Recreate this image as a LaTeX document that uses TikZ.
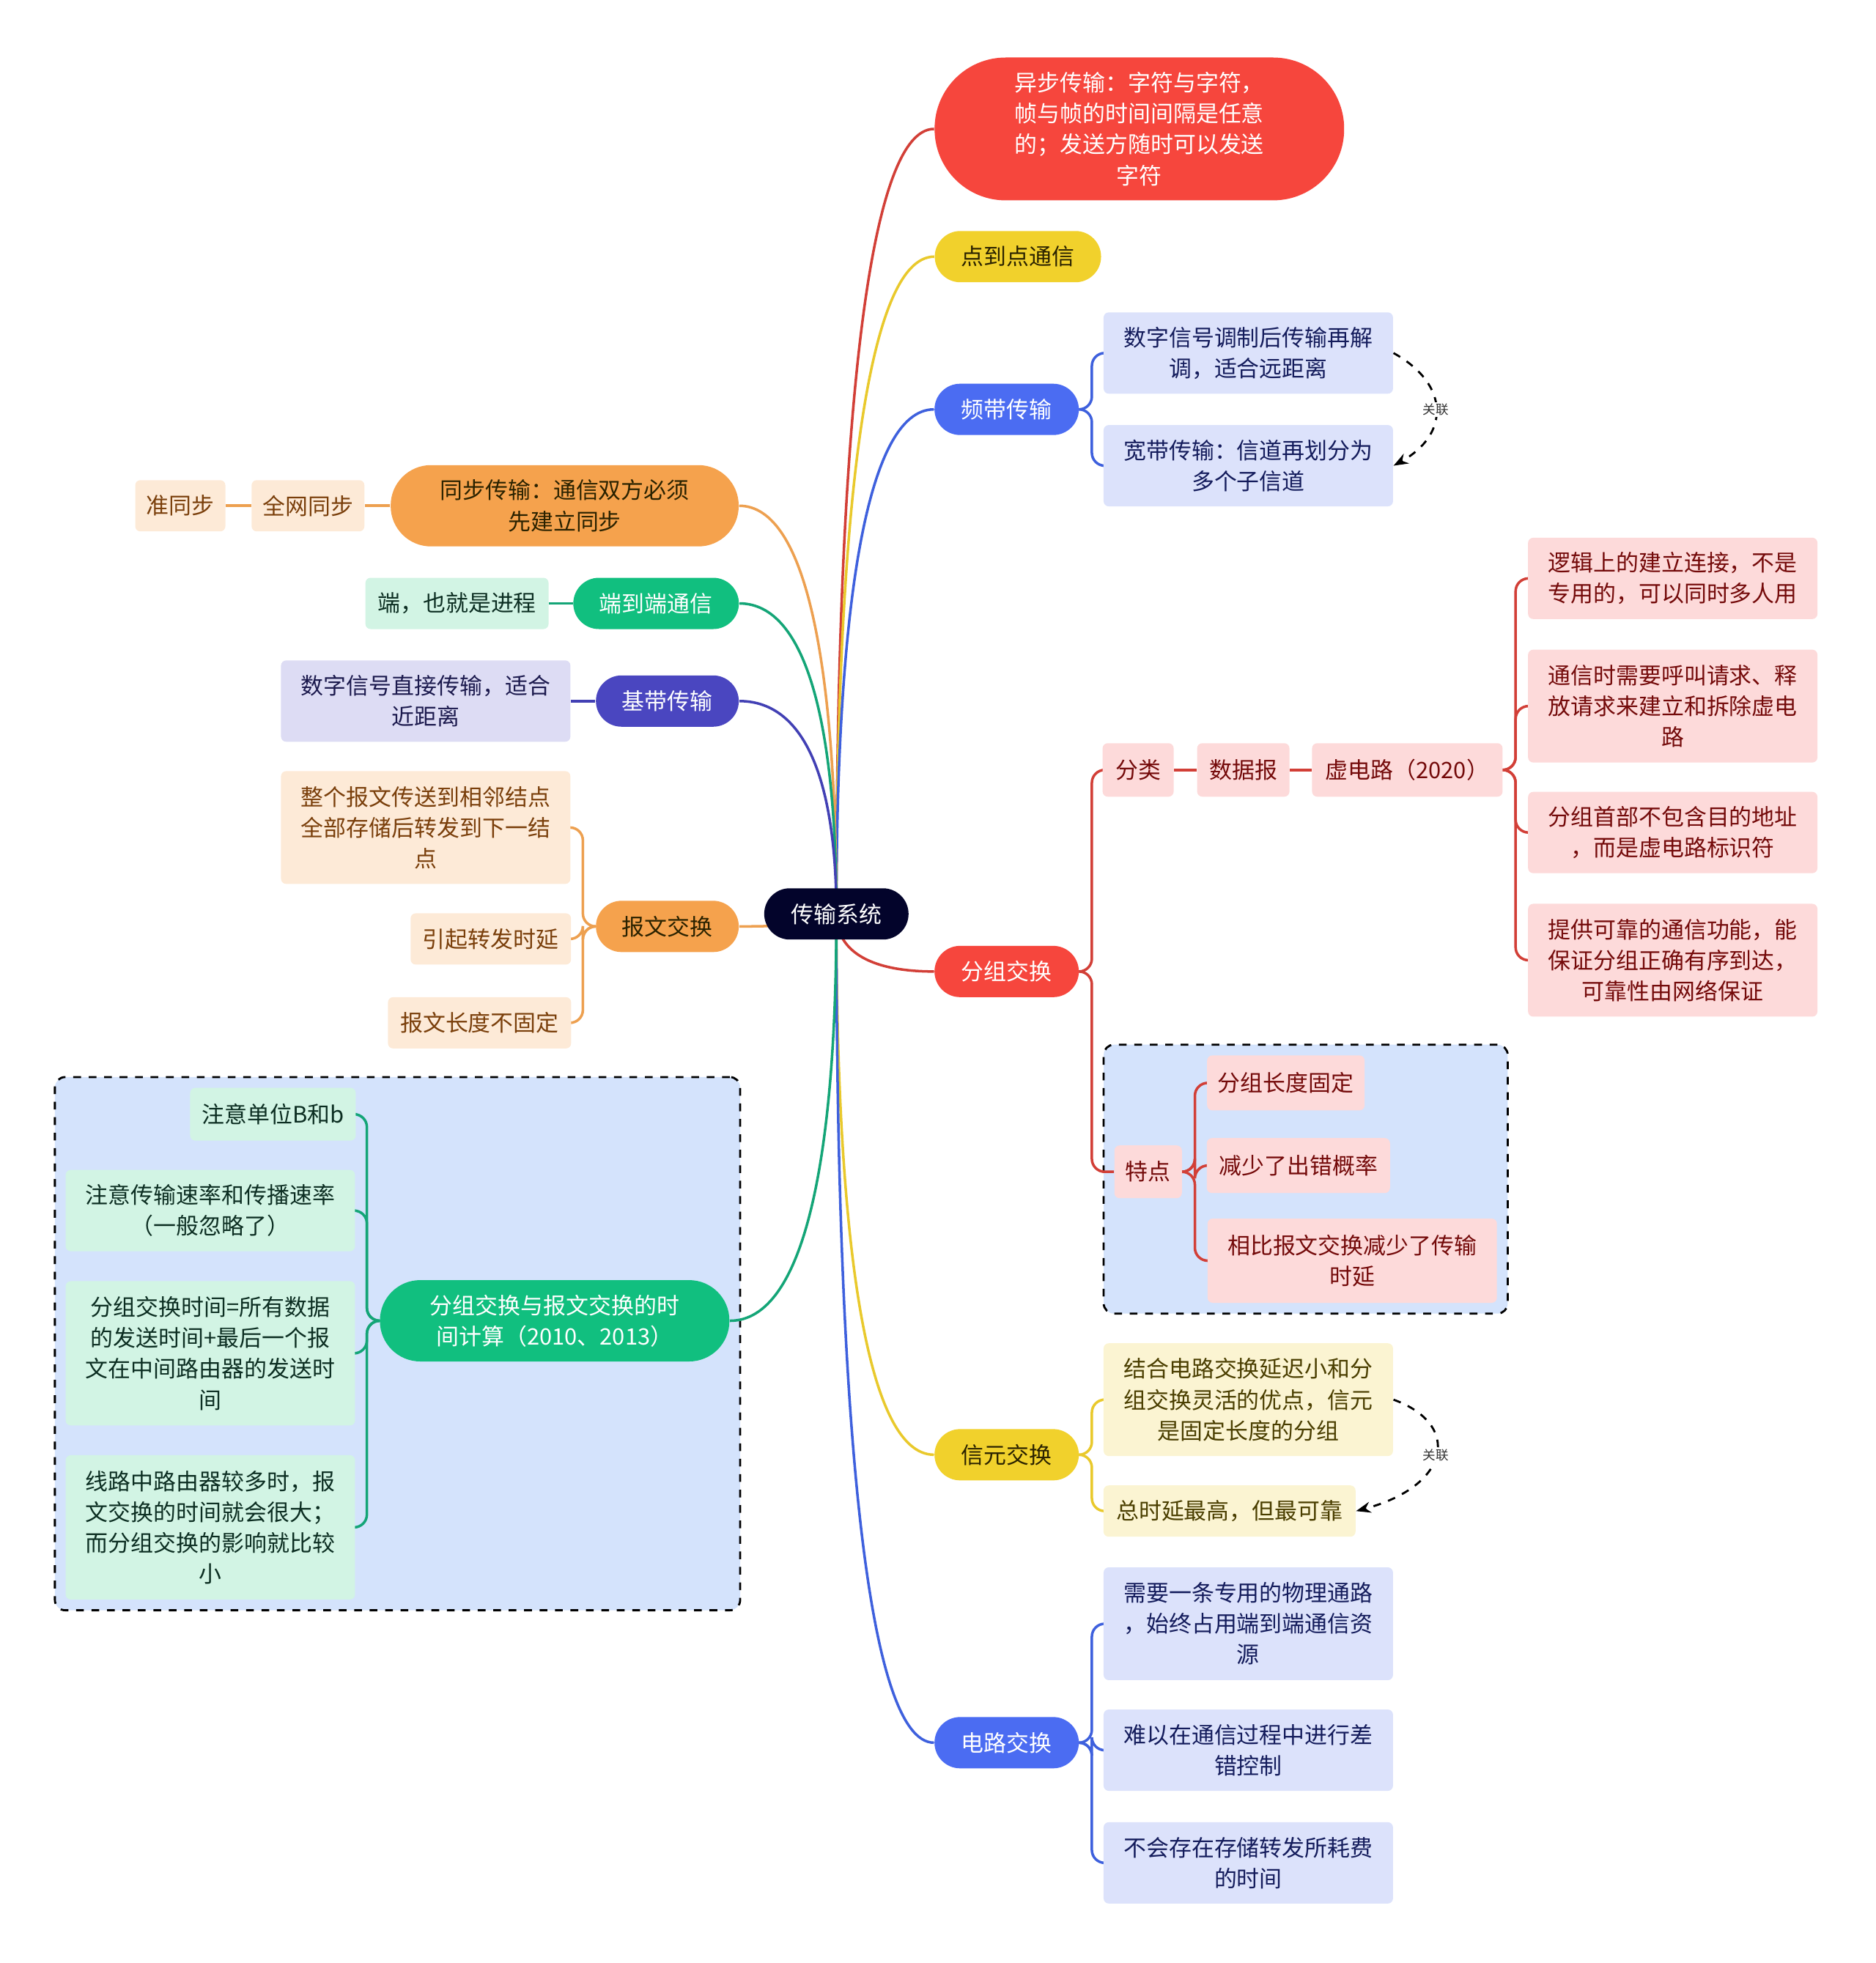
\documentclass[tikz,border=0pt]{standalone}
\usepackage{fontspec}
\setmainfont{Noto Sans CJK SC}
\usetikzlibrary{arrows.meta,fit,backgrounds,calc}
\pgfdeclarelayer{back}
\pgfdeclarelayer{lines}
\pgfsetlayers{back,lines,main}

\definecolor{cRoot}{HTML}{03042B}
\definecolor{cRed}{HTML}{F6463D}
\definecolor{cYellow}{HTML}{F1D12C}
\definecolor{cBlue}{HTML}{4B6CF2}
\definecolor{cIndigo}{HTML}{4A46C0}
\definecolor{cGreen}{HTML}{11BF7F}
\definecolor{cOrange}{HTML}{F5A24D}
\definecolor{lBlue}{HTML}{DCE2FB}
\definecolor{lPink}{HTML}{FDDADA}
\definecolor{lYellow}{HTML}{FBF4D2}
\definecolor{lOrange}{HTML}{FDEAD7}
\definecolor{lGreen}{HTML}{D2F4E4}
\definecolor{lViolet}{HTML}{DDDCF4}
\definecolor{zoneBlue}{HTML}{D4E3FC}
\definecolor{tBlue}{HTML}{141C5C}
\definecolor{tRed}{HTML}{740A0A}
\definecolor{tYellow}{HTML}{4A3E00}
\definecolor{tOrange}{HTML}{7A3F0B}
\definecolor{tGreen}{HTML}{0C2E22}
\definecolor{tViolet}{HTML}{1C1A4E}
\definecolor{tDark}{HTML}{2A2200}
\definecolor{kRed}{HTML}{D23F37}
\definecolor{kYellow}{HTML}{E9C92C}
\definecolor{kBlue}{HTML}{3E60DD}
\definecolor{kIndigo}{HTML}{4240B4}
\definecolor{kGreen}{HTML}{14A577}
\definecolor{kOrange}{HTML}{EDA050}

\begin{document}
\begin{tikzpicture}[
    x=0.01709cm, y=-0.01709cm,
    font=\fontsize{8.8}{12}\selectfont,
    >=Stealth,
    pill/.style={rounded corners=0.35cm, minimum height=0.7cm, align=center, inner sep=2pt},
    leaf/.style={rounded corners=2pt, align=center, inner sep=2pt},
    bleaf/.style={leaf, fill=lBlue, text=tBlue, minimum width=3.95cm},
    rleaf/.style={leaf, fill=lPink, text=tRed},
    oleaf/.style={leaf, fill=lOrange, text=tOrange},
    gleaf/.style={leaf, fill=lGreen, text=tGreen},
    zone/.style={draw, thick, dashed, rounded corners=4pt, fill=zoneBlue, inner sep=0.14cm},
    link/.style={line width=1pt},
    brk/.style={line width=1pt, rounded corners=5pt},
    rel/.style={thick, dashed, -{Stealth[length=2mm]}},
    rlab/.style={font=\fontsize{5}{6}\selectfont, fill=white, inner sep=0.5pt, text=black!80}
]
\useasboundingbox (0,0) rectangle (1498,1568);

\node[pill, fill=cRoot, text=white, minimum width=1.97cm] (root) at (668,730) {传输系统};

\node[pill, fill=cRed, text=white, minimum width=5.59cm, minimum height=1.95cm, rounded corners=0.97cm] (async) at (910,103) {异步传输：字符与字符，\\帧与帧的时间间隔是任意\\的；发送方随时可以发送\\字符};
\node[pill, fill=cYellow, text=tDark, minimum width=2.27cm] (p2p) at (813,205) {点到点通信};

\node[pill, fill=cBlue, text=white, minimum width=1.97cm] (band) at (804,327) {频带传输};
\node[bleaf, minimum height=1.11cm] (bandA) at (997,282) {数字信号调制后传输再解\\调，适合远距离};
\node[bleaf, minimum height=1.11cm] (bandB) at (997,372) {宽带传输：信道再划分为\\多个子信道};

\node[pill, fill=cRed, text=white, minimum width=1.97cm] (pkt) at (804,776) {分组交换};
\node[rleaf, minimum width=0.97cm, minimum height=0.73cm] (cls) at (909,615) {分类};
\node[rleaf, minimum width=1.26cm, minimum height=0.73cm] (dgram) at (993,615) {数据报};
\node[rleaf, minimum width=2.6cm, minimum height=0.73cm] (vc) at (1124,615) {虚电路（2020）};
\node[rleaf, minimum width=3.95cm, minimum height=1.11cm] (vcA) at (1336,462) {逻辑上的建立连接，不是\\专用的，可以同时多人用};
\node[rleaf, minimum width=3.95cm, minimum height=1.54cm] (vcB) at (1336,564) {通信时需要呼叫请求、释\\放请求来建立和拆除虚电\\路};
\node[rleaf, minimum width=3.95cm, minimum height=1.11cm] (vcC) at (1336,665) {分组首部不包含目的地址\\，而是虚电路标识符};
\node[rleaf, minimum width=3.95cm, minimum height=1.54cm] (vcD) at (1336,767) {提供可靠的通信功能，能\\保证分组正确有序到达，\\可靠性由网络保证};
\node[rleaf, minimum width=0.92cm, minimum height=0.72cm] (feat) at (917,936) {特点};
\node[rleaf, minimum width=2.15cm, minimum height=0.75cm] (featA) at (1027,865) {分组长度固定};
\node[rleaf, minimum width=2.5cm, minimum height=0.75cm] (featB) at (1037,931) {减少了出错概率};
\node[rleaf, minimum width=3.95cm, minimum height=1.15cm] (featC) at (1080,1007) {相比报文交换减少了传输\\时延};

\node[pill, fill=cYellow, text=tDark, minimum width=1.97cm] (cell) at (804,1162) {信元交换};
\node[leaf, fill=lYellow, text=tYellow, minimum width=3.95cm, minimum height=1.54cm] (cellA) at (997,1118) {结合电路交换延迟小和分\\组交换灵活的优点，信元\\是固定长度的分组};
\node[leaf, fill=lYellow, text=tYellow, minimum width=3.44cm, minimum height=0.7cm] (cellB) at (982,1207) {总时延最高，但最可靠};

\node[pill, fill=cBlue, text=white, minimum width=1.97cm] (circ) at (804,1392) {电路交换};
\node[bleaf, minimum height=1.54cm] (circA) at (997,1297) {需要一条专用的物理通路\\，始终占用端到端通信资\\源};
\node[bleaf, minimum height=1.11cm] (circB) at (997,1398) {难以在通信过程中进行差\\错控制};
\node[bleaf, minimum height=1.11cm] (circC) at (997,1488) {不会存在存储转发所耗费\\的时间};

\node[pill, fill=cOrange, text=tDark, minimum width=4.75cm, minimum height=1.11cm, rounded corners=0.55cm] (sync) at (451,404) {同步传输：通信双方必须\\先建立同步};
\node[oleaf, minimum width=1.54cm, minimum height=0.7cm] (syncA) at (246,404) {全网同步};
\node[oleaf, minimum width=1.23cm, minimum height=0.7cm] (syncB) at (144,404) {准同步};

\node[pill, fill=cGreen, text=white, minimum width=2.26cm] (e2e) at (524,482) {端到端通信};
\node[gleaf, minimum width=2.5cm, minimum height=0.7cm] (e2eA) at (365,482) {端，也就是进程};

\node[pill, fill=cIndigo, text=white, minimum width=1.95cm] (base) at (533,560) {基带传输};
\node[leaf, fill=lViolet, text=tViolet, minimum width=3.95cm, minimum height=1.11cm] (baseA) at (340,560) {数字信号直接传输，适合\\近距离};

\node[pill, fill=cOrange, text=tDark, minimum width=1.95cm] (msg) at (533,740) {报文交换};
\node[oleaf, minimum width=3.95cm, minimum height=1.54cm] (msgA) at (340,661) {整个报文传送到相邻结点\\全部存储后转发到下一结\\点};
\node[oleaf, minimum width=2.19cm, minimum height=0.7cm] (msgB) at (392,750) {引起转发时延};
\node[oleaf, minimum width=2.5cm, minimum height=0.7cm] (msgC) at (383,817) {报文长度不固定};

\node[pill, fill=cGreen, text=white, minimum width=4.77cm, minimum height=1.11cm, rounded corners=0.55cm] (calc) at (443,1055) {分组交换与报文交换的时\\间计算（2010、2013）};
\node[gleaf, minimum width=2.26cm, minimum height=0.72cm] (calcA) at (218,890) {注意单位B和b};
\node[gleaf, minimum width=3.95cm, minimum height=1.11cm] (calcB) at (168,967) {注意传输速率和传播速率\\（一般忽略了）};
\node[gleaf, minimum width=3.95cm, minimum height=1.97cm] (calcC) at (168,1081) {分组交换时间=所有数据\\的发送时间+最后一个报\\文在中间路由器的发送时\\间};
\node[gleaf, minimum width=3.95cm, minimum height=1.97cm] (calcD) at (168,1220) {线路中路由器较多时，报\\文交换的时间就会很大；\\而分组交换的影响就比较\\小};

\begin{pgfonlayer}{back}
\node[zone, fit=(feat)(featA)(featB)(featC)] (featzone) {};
\node[zone, fit=(calc)(calcA)(calcB)(calcC)(calcD)] (calczone) {};
\end{pgfonlayer}

\begin{pgfonlayer}{lines}
\foreach \c/\k in {async/kRed, p2p/kYellow, band/kBlue, pkt/kRed, cell/kYellow, circ/kBlue}
  \draw[link, draw=\k] (root.center) .. controls ($(root.center)!0.6!(root.center |- \c.west)$)
    and ($(root.center |- \c.west)!0.3!(\c.west)$) .. (\c.west);
\foreach \c/\k in {sync/kOrange, e2e/kGreen, base/kIndigo, msg/kOrange, calc/kGreen}
  \draw[link, draw=\k] (root.center) .. controls ($(root.center)!0.6!(root.center |- \c.east)$)
    and ($(root.center |- \c.east)!0.3!(\c.east)$) .. (\c.east);

\foreach \c in {bandA,bandB}
  \draw[brk, draw=kBlue] (band.east) -- ++(10,0) |- (\c.west);
\foreach \c in {circA,circB,circC}
  \draw[brk, draw=kBlue] (circ.east) -- ++(10,0) |- (\c.west);
\foreach \c in {cellA,cellB}
  \draw[brk, draw=kYellow] (cell.east) -- ++(10,0) |- (\c.west);
\foreach \c in {cls,feat}
  \draw[brk, draw=kRed] (pkt.east) -- ++(10,0) |- (\c.west);
\foreach \c in {vcA,vcB,vcC,vcD}
  \draw[brk, draw=kRed] (vc.east) -- ++(10,0) |- (\c.west);
\foreach \c in {featA,featB,featC}
  \draw[brk, draw=kRed] (feat.east) -- ++(10,0) |- (\c.west);
\foreach \c in {msgA,msgB,msgC}
  \draw[brk, draw=kOrange] (msg.west) -- ++(-10,0) |- (\c.east);
\foreach \c in {calcA,calcB,calcC,calcD}
  \draw[brk, draw=kGreen] (calc.west) -- ++(-10,0) |- (\c.east);

\draw[link, draw=kRed] (cls.east) -- (dgram.west);
\draw[link, draw=kRed] (dgram.east) -- (vc.west);
\draw[link, draw=kOrange] (syncB.east) -- (syncA.west);
\draw[link, draw=kOrange] (syncA.east) -- (sync.west);
\draw[link, draw=kGreen] (e2eA.east) -- (e2e.west);
\draw[link, draw=kIndigo] (baseA.east) -- (base.west);
\end{pgfonlayer}

\draw[rel] (bandA.east) .. controls +(45,25) and +(45,-25) .. node[rlab] {关联} (bandB.east);
\draw[rel] (cellA.east) .. controls +(55,20) and +(75,-20) .. node[rlab] {关联} (cellB.east);
\end{tikzpicture}
\end{document}
